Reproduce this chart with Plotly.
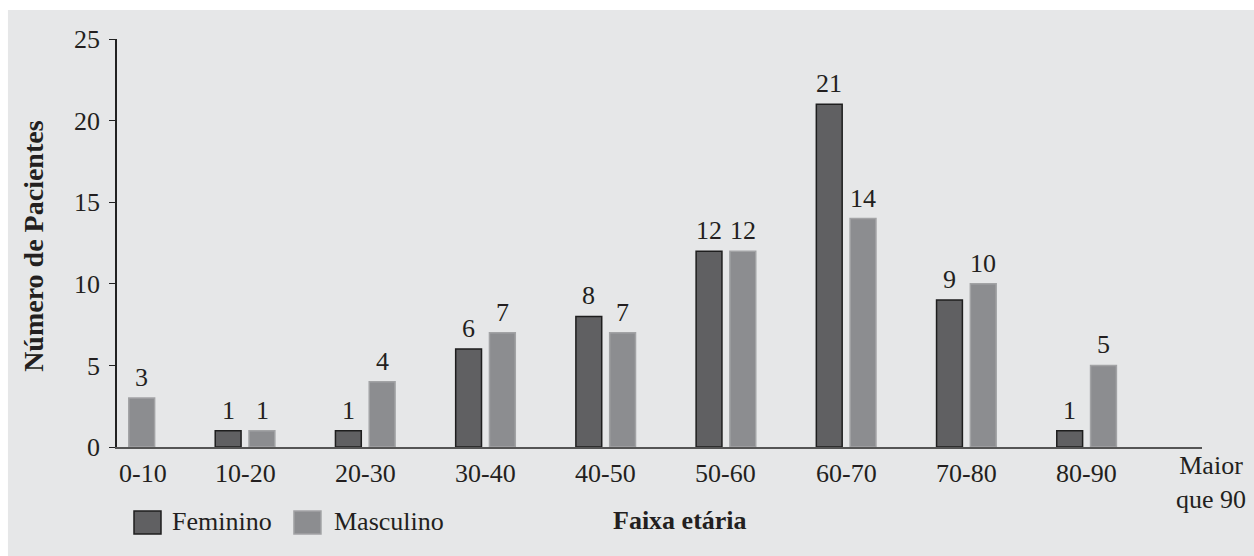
import plotly.graph_objects as go

categories = ["0-10", "10-20", "20-30", "30-40", "40-50", "50-60", "60-70", "70-80", "80-90", "Maior<br>que 90"]
feminino = [None, 1, 1, 6, 8, 12, 21, 9, 1, None]
masculino = [3, 1, 4, 7, 7, 12, 14, 10, 5, None]
y_ticks = [0, 5, 10, 15, 20, 25]
series_names = ["Feminino", "Masculino"]
fill_colors = ["#606062", "#8c8d90"]
edge_colors = ["#1e1e1e", "#a2a3a5"]
label_xshift = [-17, 17]  # half of bar slot (bar + gap) in px

FONT = "Liberation Serif"
TXT = "#231f20"
idx = list(range(len(categories)))

fig = go.Figure()
annotations = []
for name, vals, fc, ec, xs in zip(series_names, [feminino, masculino], fill_colors, edge_colors, label_xshift):
    fig.add_trace(go.Bar(
        x=idx, y=vals, name=name,
        marker=dict(color=fc, line=dict(color=ec, width=1.5)),
        showlegend=False,
    ))
    for i, v in zip(idx, vals):
        if v is None:
            continue
        annotations.append(dict(
            x=i, y=v, xref="x", yref="y", text=str(v), showarrow=False,
            xanchor="center", yanchor="bottom", xshift=xs, yshift=4,
            font=dict(family=FONT, size=26, color=TXT),
        ))

for i, c in enumerate(categories):
    if i == len(categories) - 1:
        annotations.append(dict(
            x=1.008, y=0, xref="paper", yref="paper", text=c, showarrow=False,
            xanchor="center", yanchor="top", yshift=-2,
            font=dict(family=FONT, size=26, color=TXT),
        ))
        continue
    xs = 18 if i == 0 else 0
    annotations.append(dict(
        x=i, y=0, xref="x", yref="paper", text=c, showarrow=False,
        xanchor="center", yanchor="top", yshift=-10, xshift=xs,
        font=dict(family=FONT, size=26, color=TXT),
    ))
annotations.append(dict(
    x=-0.0765, y=0.493, xref="paper", yref="paper",
    xanchor="center", yanchor="middle",
    text="<b>Número de Pacientes</b>", textangle=-90, showarrow=False,
    font=dict(family=FONT, size=28, color=TXT),
))
annotations.append(dict(
    x=0.519, y=-0.179, xref="paper", yref="paper",
    xanchor="center", yanchor="middle",
    text="<b>Faixa etária</b>", showarrow=False,
    font=dict(family=FONT, size=26, color=TXT),
))

# legend (swatch + label)
leg_sw_x = [(0.01567, 0.04055), (0.1631, 0.1880)]
leg_tx_x = [0.04885, 0.1982]
shapes = [dict(
    type="rect", xref="paper", yref="paper",
    x0=-0.1005, x1=1.06, y0=-0.28, y1=1.071,
    fillcolor="#e6e7e8", line=dict(width=0), layer="below",
)]
for name, fc, ec, (sx0, sx1), tx in zip(series_names, fill_colors, edge_colors, leg_sw_x, leg_tx_x):
    shapes.append(dict(
        type="rect", xref="paper", yref="paper",
        x0=sx0, x1=sx1, y0=-0.2132, y1=-0.1569,
        fillcolor=fc, line=dict(color=ec, width=1.5),
    ))
    annotations.append(dict(
        x=tx, y=-0.1838, xref="paper", yref="paper", text=name, showarrow=False,
        xanchor="left", yanchor="middle",
        font=dict(family=FONT, size=26, color=TXT),
    ))

fig.update_layout(
    width=1254, height=556,
    margin=dict(l=117, r=52, t=39, b=109),
    paper_bgcolor="white", plot_bgcolor="rgba(0,0,0,0)",
    barmode="group", bargap=0.438, bargroupgap=0.235,
    font=dict(family=FONT, size=24, color=TXT),
    showlegend=False,
    annotations=annotations,
    shapes=shapes,
    xaxis=dict(
        range=[-0.065, 8.96], showticklabels=False, ticks="",
        showline=True, linecolor="#555555", linewidth=2,
        showgrid=False, zeroline=False,
    ),
    yaxis=dict(
        range=[0, 25], tickvals=y_ticks, ticks="outside", ticklen=6,
        tickcolor="#222222", tickwidth=1.3,
        showline=True, linecolor="#222222", linewidth=1.5,
        showgrid=False, zeroline=False,
        tickfont=dict(family=FONT, size=26, color=TXT),
        ticklabelstandoff=4,
    ),
)

fig.write_html("out.html")
